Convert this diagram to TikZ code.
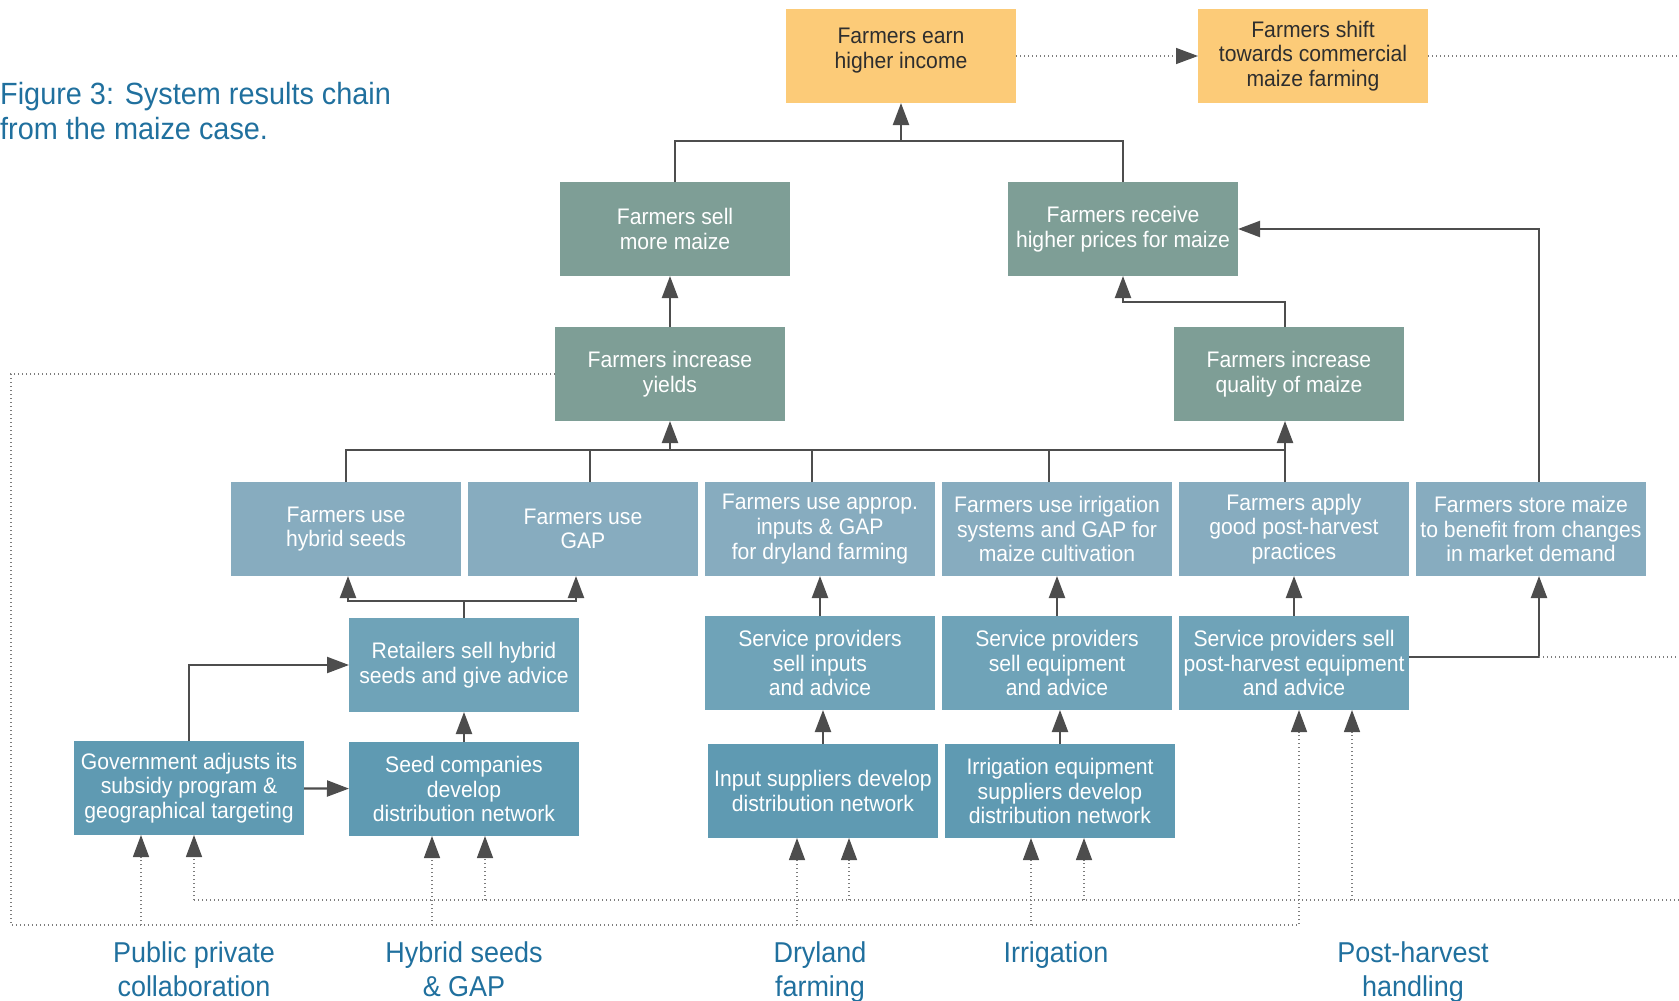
\documentclass[tikz,border=0pt]{standalone}
\usepackage{fontspec}
\setmainfont{Liberation Sans}[FakeStretch=0.94]
\usetikzlibrary{arrows.meta,positioning}
\definecolor{outcome}{RGB}{252,203,120}
\definecolor{impact}{RGB}{126,158,150}
\definecolor{farmer}{RGB}{135,172,191}
\definecolor{service}{RGB}{111,163,184}
\definecolor{supplier}{RGB}{95,154,178}
\definecolor{linegray}{RGB}{77,77,77}
\definecolor{dotgray}{RGB}{125,125,125}
\definecolor{capblue}{RGB}{32,112,158}
\begin{document}
\begin{tikzpicture}[x=1pt,y=-1pt,
   box/.style={minimum width=230pt,minimum height=94pt,inner sep=2pt,outer sep=0pt,
     align=center,text=white,font=\fontsize{22.5pt}{24.6pt}\selectfont},
   goalbox/.style={box,fill=outcome,text=black!82},
   impactbox/.style={box,fill=impact},
   practicebox/.style={box,fill=farmer},
   servicebox/.style={box,fill=service},
   supplierbox/.style={box,fill=supplier},
   area/.style={anchor=north,align=center,inner sep=0pt,text=capblue,
     font=\fontsize{28.7pt}{34pt}\selectfont},
   wire/.style={draw=linegray,line width=2.2pt},
   link/.style={wire,-{Triangle[length=22pt,width=16pt]}},
   feed/.style={draw=dotgray,line width=1.4pt,dash pattern=on 1.4pt off 2.6pt},
   feedto/.style={feed,-{Triangle[length=22pt,width=16pt,color=linegray]}}]
   \useasboundingbox (0,0) rectangle (1679,1001);

   \node (title) [anchor=north west,align=left,inner sep=0pt,text=capblue,
     font=\fontsize{30.7pt}{35pt}\selectfont] at (0,82)
     {Figure 3: System results chain\\from the maize case.};

   % outcomes and impact
   \node (earn) [goalbox,text depth=16pt] at (901,56) {Farmers earn\\higher income};
   \node (shift) [goalbox] at (1313,56) {Farmers shift\\towards commercial\\maize farming};
   \node (sell) [impactbox] at (675,229) {Farmers sell\\more maize};
   \node (receive) [impactbox] at (1123,229) {Farmers receive\\higher prices for maize};
   \node (yields) [impactbox] at (670,374) {Farmers increase\\yields};
   \node (quality) [impactbox] at (1289,374) {Farmers increase\\quality of maize};

   % farmer practices
   \node (hybrid) [practicebox] at (346,529) {Farmers use\\hybrid seeds};
   \node (gap) [practicebox,right=7pt of hybrid] {Farmers use\\GAP};
   \node (dryland) [practicebox,right=7pt of gap] {Farmers use approp.\\inputs \& GAP\\for dryland farming};
   \node (irrig) [practicebox,right=7pt of dryland] {Farmers use irrigation\\systems and GAP for\\maize cultivation};
   \node (apply) [practicebox,right=7pt of irrig] {Farmers apply\\good post-harvest\\practices};
   \node (store) [practicebox,right=7pt of apply] {Farmers store maize\\to benefit from changes\\in market demand};

   % services
   \node (retail) [servicebox] at (464,665) {Retailers sell hybrid\\seeds and give advice};
   \node (servinput) [servicebox,below=40pt of dryland] {Service providers\\sell inputs\\and advice};
   \node (servequip) [servicebox,below=40pt of irrig] {Service providers\\sell equipment\\and advice};
   \node (servpost) [servicebox,below=40pt of apply] {Service providers sell\\post-harvest equipment\\and advice};

   % suppliers
   \node (gov) [supplierbox] at (189,788) {Government adjusts its\\subsidy program \&\\geographical targeting};
   \node (seed) [supplierbox] at (464,789) {Seed companies\\develop\\distribution network};
   \node (inputsup) [supplierbox] at (823,791) {Input suppliers develop\\distribution network};
   \node (irreq) [supplierbox] at (1060,791) {Irrigation equipment\\suppliers develop\\distribution network};

   % areas
   \node (ppc) [area] at (194,941) {Public private\\collaboration};
   \node (hsg) [area] at (464,941) {Hybrid seeds\\\& GAP};
   \node (dry) [area] at (820,941) {Dryland\\farming};
   \node (irr) [area] at (1056,941) {Irrigation};
   \node (phh) [area] at (1413,941) {Post-harvest\\handling};

   \coordinate (eTop) at (1679,56);
   \coordinate (eMid) at (1679,657);
   \coordinate (loopL) at (11,925);
   \coordinate (loopR) at (1299,925);
   \coordinate (busL) at (194,900);
   \coordinate (busR) at (1679,900);
   \coordinate (storeup) at ([xshift=8pt]store.north);
   \coordinate (storedown) at ([xshift=8pt]store.south);

   % solid links
   \draw[wire] (sell.north) |- (earn.south |- 0,141) -| (receive.north);
   \draw[link] (earn.south |- 0,141) -- (earn.south);
   \draw[link] (yields.north) -- (yields.north |- sell.south);
   \draw[link] ([xshift=-4pt]quality.north) |- (receive.south |- 0,302) -- (receive.south);
   \draw[wire] (hybrid.north) |- ([xshift=-9pt]apply.north |- 0,450) -- ([xshift=-9pt]apply.north);
   \foreach \n/\dx in {gap/7,dryland/-8,irrig/-8}
     \draw[wire] ([xshift=\dx pt]\n.north) -- ([xshift=\dx pt]\n.north |- 0,450);
   \draw[link] (yields.south |- 0,450) -- (yields.south);
   \draw[link] ([xshift=-9pt]apply.north |- 0,450) -- ([xshift=-9pt]apply.north |- quality.south);
   \draw[link] (storeup) |- (receive.east);
   \draw[wire] (retail.north) -- (retail.north |- 0,601);
   \draw[link] (retail.north |- 0,601) -| ([xshift=2pt]hybrid.south);
   \draw[link] (retail.north |- 0,601) -| ([xshift=-7pt]gap.south);
   \draw[link] (gov.north) |- (retail.west);
   \draw[link] (gov) -- (seed);
   \draw[link] (seed) -- (retail);
   \draw[link] (inputsup.north) -- (inputsup.north |- servinput.south);
   \draw[link] (irreq.north) -- (irreq.north |- servequip.south);
   \draw[link] (servinput.north) -- (servinput.north |- dryland.south);
   \draw[link] (servequip.north) -- (servequip.north |- irrig.south);
   \draw[link] (servpost.north) -- (servpost.north |- apply.south);
   \draw[link] ([yshift=6pt]servpost.east) -| (storedown);

   % dotted feedback
   \draw[feedto] (earn) -- (shift);
   \draw[feed] (shift.east) -- (eTop);
   \draw[feed] ([yshift=6pt]servpost.east -| storedown) -- ([yshift=6pt]servpost.east -| eMid);
   \draw[feedto] (yields.west) -| (loopL) -- (loopR) -- (loopR |- servpost.south);
   \foreach \n/\dx in {gov/-48,seed/-32,inputsup/-26,irreq/-29}
     \draw[feedto] ([xshift=\dx pt]\n.south |- loopL) -- ([xshift=\dx pt]\n.south);
   \draw[feed] (busL) -- (busR);
   \foreach \n/\dx in {gov/5,seed/21,inputsup/26,irreq/24,servpost/58}
     \draw[feedto] ([xshift=\dx pt]\n.south |- busL) -- ([xshift=\dx pt]\n.south);
\end{tikzpicture}
\end{document}
